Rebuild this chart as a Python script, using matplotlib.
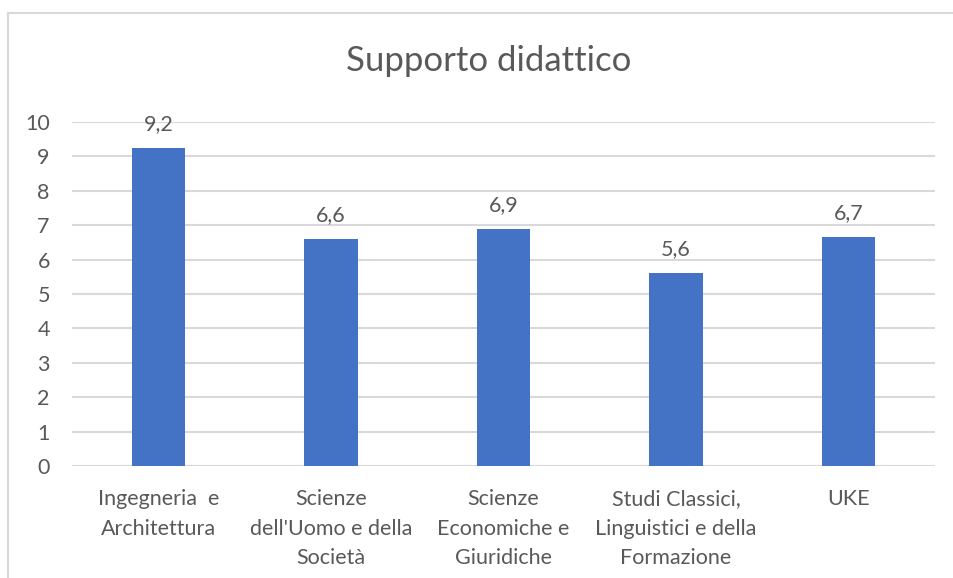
import numpy as np
import matplotlib.pyplot as plt
from matplotlib.lines import Line2D

# data
categories = ["Ingegneria  e\nArchitettura",
              "Scienze\ndell'Uomo e della\nSocietà",
              "Scienze\nEconomiche e\nGiuridiche",
              "Studi Classici,\nLinguistici e della\nFormazione",
              "UKE"]
values = [9.25, 6.6, 6.9, 5.6, 6.67]
value_labels = ["9,2", "6,6", "6,9", "5,6", "6,7"]
yticks = list(range(0, 11))

text_col = "#595959"
bar_col = "#4472C4"
grid_col = "#D9D9D9"

plt.rcParams['font.family'] = ['Lato', 'DejaVu Sans']

fig = plt.figure(figsize=(9.54, 5.78), dpi=100)
ax = fig.add_axes([0.0755, 0.1938, 0.9046, 0.5952])

x = np.arange(len(categories))
ax.bar(x, values, width=0.31, color=bar_col, zorder=3)

for xi, v, lab in zip(x, values, value_labels):
    ax.annotate(lab, (xi, v), xytext=(0, 10), textcoords="offset points",
                ha="center", va="bottom", fontsize=15.5, color=text_col)

ax.set_xlim(-0.5, len(categories) - 0.5)
ax.set_ylim(0, 10)
ax.set_yticks(yticks)
ax.set_yticklabels([str(t) for t in yticks])
ax.set_xticks(x)
ax.set_xticklabels(categories, linespacing=1.6)

ax.grid(axis="y", color=grid_col, linewidth=1.5, zorder=0)
ax.tick_params(axis="both", length=0, labelsize=15.5, colors=text_col)
ax.tick_params(axis="y", pad=16)
ax.tick_params(axis="x", pad=16.5)
for s in ax.spines.values():
    s.set_visible(False)

fig.text(0.512, 0.895, "Supporto didattico", ha="center", va="center",
         fontsize=25, color=text_col)

# chart border (partially cropped in the original)
bx, by = 8.5 / 954, 1 - 13 / 578
fig.add_artist(Line2D([bx, 1.0], [by, by], color=grid_col, linewidth=1.5,
                      transform=fig.transFigure))
fig.add_artist(Line2D([bx, bx], [0.0, by], color=grid_col, linewidth=1.5,
                      transform=fig.transFigure))

fig.savefig("out.png", dpi=100)
